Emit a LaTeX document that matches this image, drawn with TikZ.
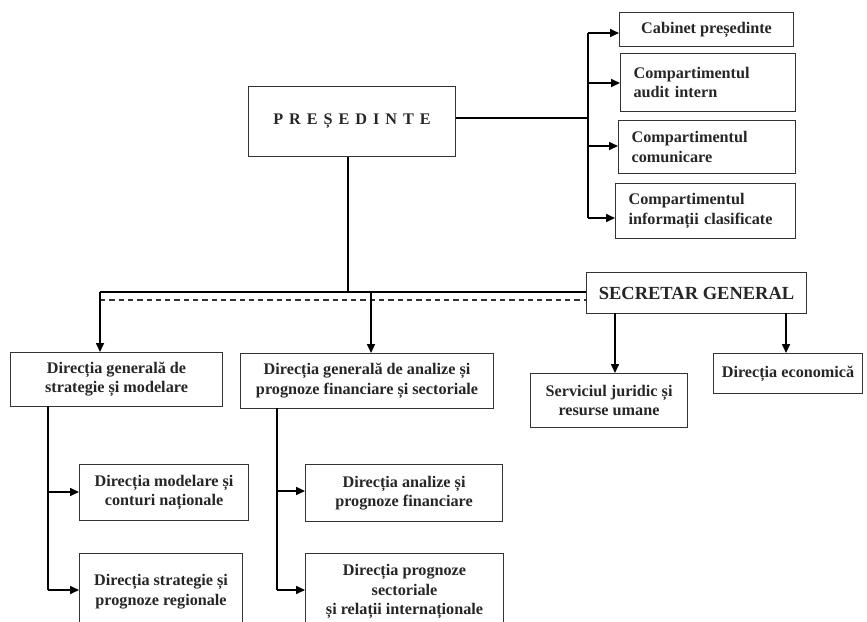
\documentclass[tikz,border=0pt]{standalone}
\usepackage{fontspec}
\setmainfont{Liberation Serif}
\usetikzlibrary{arrows.meta}
\tikzset{
  box/.style={draw=black!80, line width=1.1pt, inner sep=0pt, align=center,
    anchor=north west, text=black!85, font=\fontsize{16.2}{19.5}\selectfont\bfseries},
  lbox/.style={box, align=left, inner xsep=13pt, inner ysep=0pt},
  conn/.style={draw=black, line width=1.6pt},
  arr/.style={conn, -{Triangle[length=9pt,width=8pt]}},
  dashconn/.style={draw=black!80, line width=1.1pt, dash pattern=on 5.3pt off 4pt}
}
\begin{document}
\begin{tikzpicture}[x=1pt,y=-1pt]
\useasboundingbox (0,0) rectangle (867,621);
% top
\node[box, minimum width=207pt, minimum height=70pt] (pres) at (248,86)
  {\raisebox{-5pt}{\addfontfeatures{LetterSpace=37}PREȘEDINTE}};
\node[box, minimum width=174pt, minimum height=34pt] (cab) at (619,12) {Cabinet președinte};
\node[lbox, text width=149pt, minimum height=58pt] (aud) at (620,53) {Compartimentul\\audit intern};
\node[lbox, text width=151pt, minimum height=53pt] (com) at (618,120) {Compartimentul\\comunicare};
\node[lbox, text width=154pt, minimum height=55pt] (inf) at (615,183) {Compartimentul\\informații clasificate};
% middle
\node[box, minimum width=220pt, minimum height=41pt, font=\fontsize{18.5}{20}\selectfont\bfseries] (sg) at (586,272) {SECRETAR GENERAL};
\node[box, minimum width=212pt, minimum height=54pt] (dg1) at (10,352) {Direcția generală de\\strategie și modelare};
\node[box, minimum width=253pt, minimum height=55pt] (dg2) at (240,353) {Direcția generală de analize și\\prognoze financiare și sectoriale};
\node[box, minimum width=157pt, minimum height=54pt] (sj) at (530,373) {Serviciul juridic și\\resurse umane};
\node[box, minimum width=149pt, minimum height=40pt] (de) at (713,353) {Direcția economică};
% bottom
\node[box, minimum width=169pt, minimum height=56pt] (m1) at (79,464) {Direcția modelare și\\conturi naționale};
\node[box, minimum width=163pt, minimum height=76pt] (m2) at (79,553) {Direcția strategie și\\prognoze regionale};
\node[box, minimum width=197pt, minimum height=57pt] (a1) at (305,464) {Direcția analize și\\prognoze financiare};
\node[box, minimum width=198pt, minimum height=76pt] (a2) at (305,553) {Direcția prognoze\\sectoriale\\și relații internaționale};
% junction coordinates
\coordinate (pr) at (588,118);
\coordinate (bt) at (588,33);
\coordinate (b2) at (588,83);
\coordinate (b3) at (588,146);
\coordinate (bb) at (588,218);
\coordinate (jp) at (348,292);
\coordinate (L1) at (100,292);
\coordinate (L2) at (100,300);
\coordinate (v2) at (371,292);
\coordinate (s1) at (615,313);
\coordinate (s2) at (786,313);
\coordinate (d1a) at (48,406);
\coordinate (d1b) at (48,492);
\coordinate (d1c) at (48,590);
\coordinate (d2a) at (277,408);
\coordinate (d2b) at (277,491);
\coordinate (d2c) at (277,590);
% connectors top
\draw[conn] (pres.east |- pr) -- (pr);
\draw[conn] (bt) -- (bb);
\draw[arr] (bt) -- (bt -| cab.west);
\draw[arr] (b2) -- (b2 -| aud.west);
\draw[arr] (b3) -- (b3 -| com.west);
\draw[arr] (bb) -- (bb -| inf.west);
% president down
\draw[conn] (pres.south -| jp) -- (jp);
\draw[conn] (L1) -- (L1 -| sg.west);
\draw[dashconn] (L2) -- (L2 -| sg.west);
\draw[arr] (L1) -- (L1 |- dg1.north);
\draw[arr] (v2) -- (v2 |- dg2.north);
% secretar
\draw[arr] (s1) -- (s1 |- sj.north);
\draw[arr] (s2) -- (s2 |- de.north);
% left branch
\draw[conn] (d1a) -- (d1c);
\draw[arr] (d1b) -- (d1b -| m1.west);
\draw[arr] (d1c) -- (d1c -| m2.west);
% middle branch
\draw[conn] (d2a) -- (d2c);
\draw[arr] (d2b) -- (d2b -| a1.west);
\draw[arr] (d2c) -- (d2c -| a2.west);
\end{tikzpicture}
\end{document}
